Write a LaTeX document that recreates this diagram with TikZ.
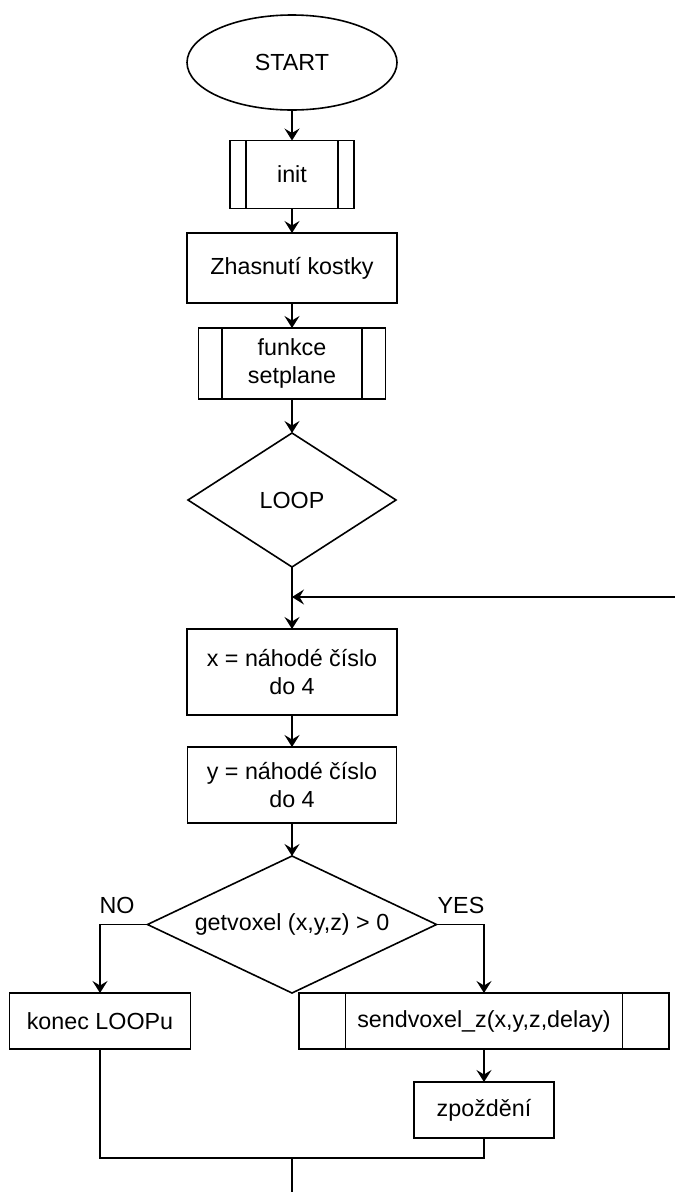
\documentclass[tikz,border=0pt]{standalone}
\usepackage{fontspec}
\setmainfont{Liberation Sans}
\usetikzlibrary{shapes.geometric,arrows.meta}
\begin{document}
\begin{tikzpicture}[x=1pt,y=-1pt,
  every node/.style={font=\fontsize{23.3}{28.3}\selectfont, inner sep=0pt, outer sep=0pt, line width=1.6pt, align=center},
  box/.style={rectangle, draw},
  term/.style={ellipse, draw},
  dia/.style={diamond, draw},
  conn/.style={line width=1.6pt, -{Stealth[length=12pt,width=15pt,inset=4.5pt]}},
  plain/.style={line width=1.6pt},
  lbl/.style={draw=none},
  sub/.style={line width=1.6pt}
]
\useasboundingbox (0,0) rectangle (675,1192);

\node[term, minimum width=210pt, minimum height=95pt] (start) at (292,62.5) {START};
\node[box, minimum width=124pt, minimum height=68pt] (init) at (292,174.5) {init};
\node[box, minimum width=210pt, minimum height=70pt] (zhas) at (292,268) {Zhasnutí kostky};
\node[box, minimum width=187pt, minimum height=71pt] (setp) at (292,363.5) {funkce\\setplane};
\node[dia, aspect=1.54, minimum width=208pt, minimum height=134pt] (loop) at (292,500) {LOOP};
\node[box, minimum width=210pt, minimum height=86pt] (xbox) at (292,672) {x = náhodé číslo\\do 4};
\node[box, minimum width=209pt, minimum height=76pt] (ybox) at (292,785) {y = náhodé číslo\\do 4};
\node[dia, aspect=2.11, minimum width=289pt, minimum height=137pt] (dec) at (292,924.5) {getvoxel (x,y,z) > 0};
\node[box, minimum width=181pt, minimum height=56pt] (konec) at (100,1021) {konec LOOPu};
\node[box, minimum width=370pt, minimum height=56pt] (send) at (484,1021) {sendvoxel\_z(x,y,z,delay)};
\node[box, minimum width=140pt, minimum height=56pt] (zp) at (484,1110) {zpoždění};

\node[lbl] (no) at (117,905) {NO};
\node[lbl] (yes) at (461,905) {YES};

% subprocess inner lines
\draw[sub] ([xshift=16pt]init.north west) -- ([xshift=16pt]init.south west);
\draw[sub] ([xshift=-16pt]init.north east) -- ([xshift=-16pt]init.south east);
\draw[sub] ([xshift=23.5pt]setp.north west) -- ([xshift=23.5pt]setp.south west);
\draw[sub] ([xshift=-23.5pt]setp.north east) -- ([xshift=-23.5pt]setp.south east);
\draw[sub] ([xshift=46.5pt]send.north west) -- ([xshift=46.5pt]send.south west);
\draw[sub] ([xshift=-46.5pt]send.north east) -- ([xshift=-46.5pt]send.south east);

\coordinate (ret) at (675,597);
\coordinate (merge) at (292,1158);
\coordinate (endpt) at (292,1192);

\draw[conn] (start.south) -- (init.north);
\draw[conn] (init.south) -- (zhas.north);
\draw[conn] (zhas.south) -- (setp.north);
\draw[conn] (setp.south) -- (loop.north);
\draw[conn] (loop.south) -- (xbox.north);
\draw[conn] (ret) -- (ret -| loop.south);
\draw[conn] (xbox.south) -- (ybox.north);
\draw[conn] (ybox.south) -- (dec.north);
\draw[conn] (dec.west) -| (konec.north);
\draw[conn] (dec.east) -| (send.north);
\draw[conn] (send.south) -- (zp.north);
\draw[plain] (konec.south) |- (merge) -| (zp.south);
\draw[plain] (merge) -- (endpt);
\end{tikzpicture}
\end{document}
